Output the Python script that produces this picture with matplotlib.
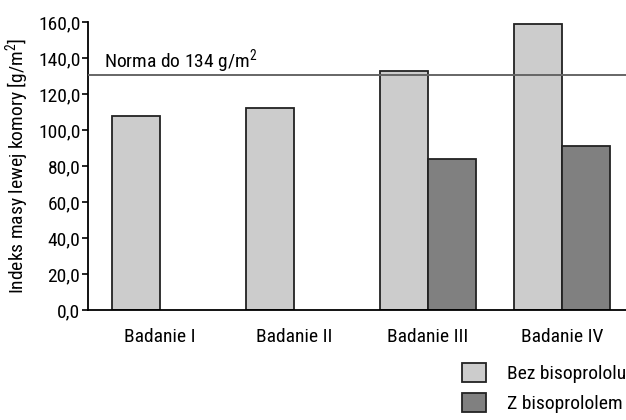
import matplotlib
matplotlib.use("Agg")
import matplotlib.pyplot as plt
import matplotlib.patches as mpatches
import numpy as np

plt.rcParams['font.family'] = ['Roboto Condensed', 'DejaVu Sans']
plt.rcParams['mathtext.fontset'] = 'custom'
plt.rcParams['mathtext.rm'] = 'Roboto Condensed'

categories = ["Badanie I", "Badanie II", "Badanie III", "Badanie IV"]
bez = [108, 112, 133, 159]
z = [np.nan, np.nan, 84, 91]
series_names = ["Bez bisoprololu", "Z bisoprololem"]
norm_value = 130.5
norm_label = "Norma do 134 g/m$^{\\mathrm{2}}$"
yticks = [0, 20, 40, 60, 80, 100, 120, 140, 160]
ytick_labels = ["0,0", "20,0", "40,0", "60,0", "80,0", "100,0", "120,0", "140,0", "160,0"]

FS = 14
fig = plt.figure(figsize=(6.26, 4.2), dpi=100)
ax = fig.add_axes([88/626, 1-310/420, 1-88/626, (310-22)/420])

x = np.arange(len(categories))
w = 0.358
light = '#cccccc'
dark = '#808080'
edge = '#222222'
ax.bar(x - w/2, bez, w, color=light, edgecolor=edge, linewidth=1.3, zorder=2)
ax.bar(x + w/2, z, w, color=dark, edgecolor=edge, linewidth=1.3, zorder=2)

ax.axhline(norm_value, color='#666666', linewidth=1.4, zorder=3)
ax.text(-0.42, norm_value + 3.7, norm_label, fontsize=FS, ha='left', va='baseline')

ax.set_ylim(0, 160)
ax.set_xlim(-0.537, 3.478)
ax.set_yticks(yticks)
ax.set_yticklabels(ytick_labels, fontsize=FS)
ax.set_xticks(x)
ax.set_xticklabels(categories, fontsize=FS)
ax.tick_params(axis='x', length=0, pad=13)
ax.tick_params(axis='y', length=4, width=1.2, pad=1.5)
for s in ['top', 'right']:
    ax.spines[s].set_visible(False)
ax.spines['left'].set_linewidth(1.3)
ax.spines['bottom'].set_linewidth(1.3)
ax.set_ylabel("Indeks masy lewej komory [g/m$^{\\mathrm{2}}$]", fontsize=FS, labelpad=4)

handles = [mpatches.Patch(facecolor=light, edgecolor=edge, linewidth=1.3),
           mpatches.Patch(facecolor=dark, edgecolor=edge, linewidth=1.3)]
fig.legend(handles, series_names, loc='upper left', bbox_to_anchor=(462/626, 1-363/420),
           frameon=False, fontsize=FS, handlelength=1.24, handleheight=1.13,
           handletextpad=1.05, labelspacing=0.5, borderpad=0, borderaxespad=0)

fig.savefig("out.png", dpi=100)
